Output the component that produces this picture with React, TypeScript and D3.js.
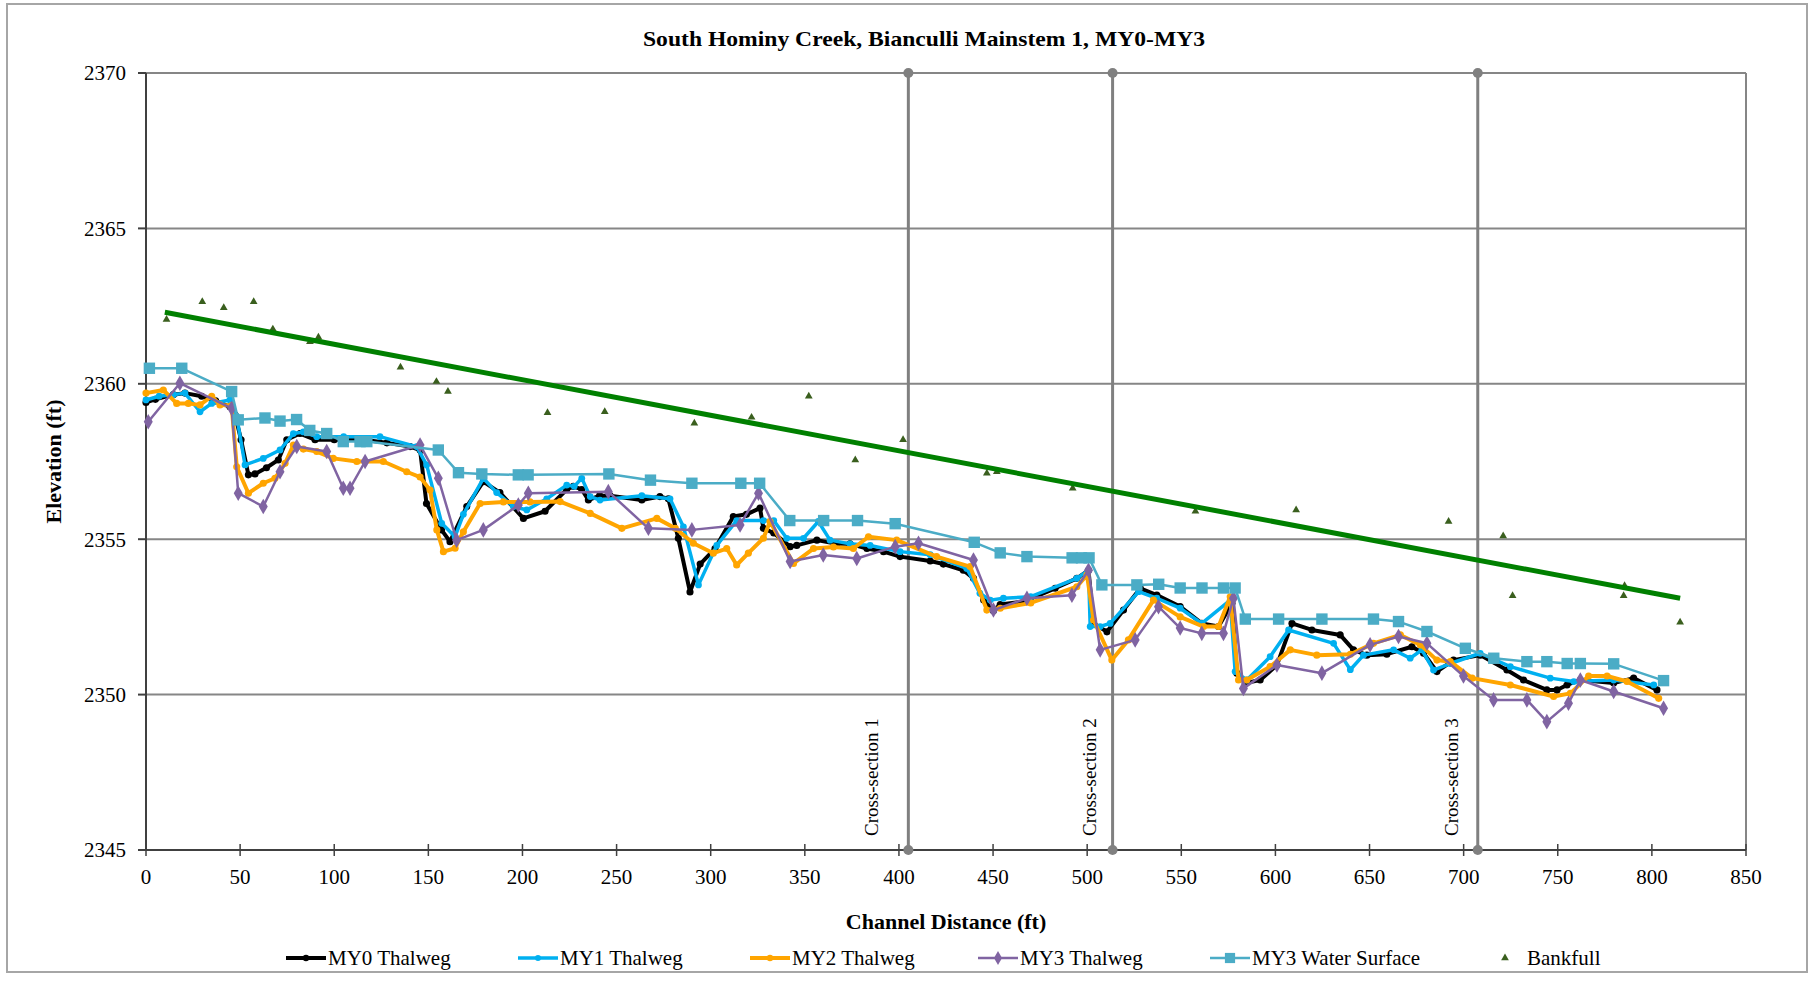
import * as d3 from 'd3'
import React from 'react'

type Pt = [number, number]

// Channel distance (ft) / elevation (ft) read from the profile
const my0Thalweg: Pt[] = [
  [0, 2359.4], [5, 2359.5], [14.5, 2359.65], [20.7, 2359.7], [29.6, 2359.6], [37, 2359.45], [44.6, 2359.26],
  [47.3, 2359.0], [50.5, 2358.2], [54.4, 2357.07], [57.9, 2357.1], [64, 2357.3], [70.3, 2357.55], [74.8, 2358.2],
  [81.8, 2358.4], [89.8, 2358.2], [100, 2358.2], [115.4, 2358.2], [128, 2358.1], [140.3, 2357.98], [145.6, 2357.87],
  [149, 2356.15], [157, 2355.3], [161.5, 2354.92], [170.4, 2356.05], [179.2, 2356.85], [188, 2356.5], [200.5, 2355.67],
  [212, 2355.9], [223.5, 2356.6], [227, 2356.7], [231.5, 2356.6], [235, 2356.26], [241, 2356.4], [246.5, 2356.4],
  [263.4, 2356.26], [273, 2356.37], [277.5, 2356.3], [282.8, 2355.03], [289, 2353.3], [294.4, 2354.2], [302.3, 2354.7],
  [312, 2355.73], [319, 2355.8], [326.2, 2356.0], [328, 2355.35], [333.5, 2355.2], [342.2, 2354.76], [345.7, 2354.8],
  [356.4, 2354.97], [367, 2354.85], [374, 2354.85], [383, 2354.7], [391.8, 2354.6], [400.6, 2354.44], [416.6, 2354.3],
  [423.6, 2354.2], [434.2, 2354.0], [439.6, 2353.74], [445, 2353.04], [450.2, 2352.7], [453.8, 2352.9], [466.5, 2353.0],
  [483, 2353.42], [494.5, 2353.74], [500.7, 2354.0], [503.4, 2352.29], [510.5, 2352.02], [519.3, 2352.72], [528.2, 2353.42],
  [537, 2353.2], [549.4, 2352.83], [560.9, 2352.29], [569.8, 2352.19], [576.9, 2352.94], [579.5, 2350.69], [584, 2350.37],
  [591.9, 2350.47], [600.8, 2350.95], [608.8, 2352.29], [619.4, 2352.08], [634.4, 2351.92], [641.5, 2351.44], [648.6, 2351.27],
  [659.2, 2351.3], [672.5, 2351.54], [678.7, 2351.33], [685.8, 2350.74], [694.6, 2351.11], [708.8, 2351.27], [723, 2350.79],
  [731.8, 2350.47], [744.2, 2350.15], [749.6, 2350.15], [754.9, 2350.31], [762, 2350.47], [779.7, 2350.37], [790.3, 2350.53],
  [802.7, 2350.15],
]

const my1Thalweg: Pt[] = [
  [0, 2359.48], [7, 2359.6], [14.5, 2359.65], [20.7, 2359.7], [28.7, 2359.1], [34.9, 2359.37], [44.6, 2359.48],
  [48.2, 2358.94], [52.6, 2357.39], [62.3, 2357.6], [71.2, 2357.87], [78.3, 2358.4], [83.6, 2358.45], [90.7, 2358.3],
  [105, 2358.3], [124.3, 2358.3], [143.8, 2357.98], [149.1, 2357.39], [157.1, 2355.51], [164.2, 2355.08], [168.6, 2355.8],
  [179.2, 2356.96], [186.3, 2356.5], [195.2, 2356.05], [202.3, 2355.94], [212.9, 2356.3], [223.5, 2356.74], [227.5, 2356.7],
  [231.5, 2356.96], [236, 2356.37], [241.2, 2356.26], [263.4, 2356.4], [278.4, 2356.3], [285.5, 2355.4], [293.5, 2353.53],
  [303.2, 2354.8], [313.8, 2355.6], [328, 2355.6], [333.5, 2355.6], [340.4, 2355.03], [349.3, 2355.03], [357.2, 2355.57],
  [363.4, 2354.97], [374, 2354.85], [384.7, 2354.8], [400.6, 2354.6], [416.6, 2354.5], [436, 2354.06], [443, 2353.26],
  [448.5, 2353.04], [455.5, 2353.1], [470, 2353.15], [494.5, 2353.74], [500.7, 2354.0], [501.6, 2352.19], [506.9, 2352.19],
  [512.2, 2352.29], [527.3, 2353.31], [537, 2353.1], [549.4, 2352.78], [560.9, 2352.29], [576, 2353.04], [578.6, 2350.74],
  [584.8, 2350.47], [597.2, 2351.22], [607, 2352.08], [630.9, 2351.65], [639.8, 2350.8], [646.8, 2351.27], [662.8, 2351.44],
  [671.6, 2351.17], [677.8, 2351.44], [684, 2350.79], [692.9, 2351.0], [708.8, 2351.33], [724.8, 2350.9], [746, 2350.53],
  [758.5, 2350.42], [779.7, 2350.47], [801, 2350.31],
]

const my2Thalweg: Pt[] = [
  [0, 2359.7], [9.2, 2359.8], [16.3, 2359.37], [22.5, 2359.37], [28.7, 2359.32], [34.9, 2359.6], [39.3, 2359.32],
  [45.5, 2359.3], [48.2, 2357.33], [54.4, 2356.48], [62.3, 2356.8], [68.5, 2356.96], [73.9, 2357.44], [78.3, 2358.03],
  [83.6, 2357.9], [90.7, 2357.82], [99.5, 2357.6], [112, 2357.5], [126.1, 2357.5], [138.5, 2357.17], [145.6, 2357.0],
  [150.9, 2356.58], [154.5, 2355.3], [158, 2354.6], [164.2, 2354.71], [168.6, 2355.24], [177.5, 2356.15], [189.9, 2356.2],
  [204, 2356.2], [220, 2356.21], [236, 2355.83], [252.8, 2355.35], [271.4, 2355.67], [281.2, 2355.35], [290.8, 2354.87],
  [301.4, 2354.55], [308.5, 2354.7], [313.8, 2354.17], [320, 2354.55], [328, 2355.03], [331.5, 2355.57], [344, 2354.22],
  [354.6, 2354.7], [365.2, 2354.75], [375.8, 2354.7], [383.8, 2355.08], [398.8, 2354.97], [420, 2354.44], [437.8, 2354.12],
  [446.7, 2352.72], [453.8, 2352.78], [470, 2352.95], [494.5, 2353.47], [499.9, 2353.85], [503.4, 2352.4], [513.1, 2351.11],
  [521.9, 2351.76], [535.2, 2353.04], [549.4, 2352.5], [561.8, 2352.19], [569.8, 2352.19], [576, 2353.15], [580.4, 2350.47],
  [584.8, 2350.47], [597.2, 2350.9], [607.9, 2351.44], [622, 2351.27], [639.8, 2351.3], [652.1, 2351.65], [666.4, 2351.92],
  [677, 2351.6], [685.8, 2351.11], [692.9, 2351.06], [704.5, 2350.53], [724.8, 2350.31], [747.8, 2349.94], [756.7, 2350.04],
  [766.4, 2350.6], [776.2, 2350.6], [786.8, 2350.42], [803.6, 2349.88],
]

const my3Thalweg: Pt[] = [
  [1.2, 2358.78], [18, 2360.02], [45.5, 2359.21], [49, 2356.48], [62.3, 2356.05], [71.2, 2357.17], [80.1, 2357.98],
  [96, 2357.82], [104.8, 2356.64], [108.4, 2356.64], [116.4, 2357.5], [145.6, 2358.03], [155.3, 2356.96], [165, 2354.97],
  [179.2, 2355.3], [197.8, 2356.1], [203.1, 2356.48], [245.6, 2356.53], [266.9, 2355.35], [290, 2355.3], [315.6, 2355.46],
  [325.4, 2356.48], [342.2, 2354.28], [359.8, 2354.49], [377.6, 2354.38], [398, 2354.76], [410.4, 2354.87], [439.6, 2354.33],
  [450.2, 2352.72], [468, 2353.1], [491.9, 2353.2], [500.7, 2354.0], [506.9, 2351.44], [525.5, 2351.76], [537.9, 2352.83],
  [549.4, 2352.14], [560.9, 2351.97], [572.4, 2351.97], [577.7, 2353.1], [583, 2350.2], [600.8, 2350.95], [624.7, 2350.69],
  [650.3, 2351.6], [665.4, 2351.87], [680.5, 2351.65], [699.9, 2350.6], [715.9, 2349.83], [733.6, 2349.83], [744.2, 2349.13],
  [755.7, 2349.72], [762, 2350.47], [779.7, 2350.1], [806.2, 2349.56],
]

const my3WaterSurface: Pt[] = [
  [1.8, 2360.5], [19, 2360.5], [45.5, 2359.75], [49, 2358.84], [63.2, 2358.9], [71.2, 2358.8], [80, 2358.85], [87, 2358.5],
  [96, 2358.4], [104.8, 2358.14], [113.7, 2358.14], [117.3, 2358.14], [155.3, 2357.87], [166, 2357.14], [178.4, 2357.1],
  [197.8, 2357.07], [203, 2357.07], [245.9, 2357.1], [268, 2356.9], [290, 2356.8], [316, 2356.8], [326, 2356.8],
  [342, 2355.6], [360, 2355.6], [378, 2355.6], [398, 2355.5], [440, 2354.9], [453.8, 2354.56], [468, 2354.44], [492, 2354.4],
  [497, 2354.4], [501, 2354.4], [507.8, 2353.53], [526.4, 2353.53], [538, 2353.55], [549.4, 2353.43], [561, 2353.43],
  [572.4, 2353.43], [578.6, 2353.43], [584, 2352.43], [601.7, 2352.43], [624.7, 2352.43], [652.1, 2352.43], [665.4, 2352.35],
  [680.5, 2352.03], [700.9, 2351.49], [716, 2351.17], [733.6, 2351.06], [744.2, 2351.06], [755, 2351.0], [762, 2351.0],
  [779.7, 2350.99], [806.2, 2350.45],
]

const bankfull: Pt[] = [
  [10.9, 2362.07], [29.9, 2362.64], [41.3, 2362.45], [57.2, 2362.64], [67.4, 2361.76], [87.1, 2361.35], [91.6, 2361.5],
  [135.2, 2360.53], [154.3, 2360.07], [160.4, 2359.75], [213.3, 2359.07], [243.7, 2359.1], [291.3, 2358.73], [321.7, 2358.92],
  [352.1, 2359.6], [376.8, 2357.55], [402.2, 2358.2], [446.7, 2357.12], [452, 2357.17], [492.3, 2356.64], [557.5, 2355.9],
  [611, 2355.94], [692, 2355.57], [721, 2355.1], [726, 2353.18], [785, 2353.18], [785.5, 2353.5], [815, 2352.33],
]

// linear trend through the bankfull points
const bankfullTrend: Pt[] = [[10, 2362.3], [815, 2353.1]]

const crossSections = ['Cross-section 1', 'Cross-section 2', 'Cross-section 3']
const crossSectionStations = [405, 513.5, 707.5]

const xTicks = d3.range(0, 851, 50)
const yTicks = [2345, 2350, 2355, 2360, 2365, 2370]

const W = 1811
const H = 984
const FONT = '"Liberation Serif", "Times New Roman", serif'
// label nudges left of each cross-section line (px)
const labelGap = [30, 17, 20]

const x = d3.scaleLinear().domain([0, 850]).range([146, 1746])
const y = d3.scaleLinear().domain([2345, 2370]).range([850, 73])

const line = d3.line<Pt>().x(d => x(d[0])).y(d => y(d[1]))

const series = [
  { name: 'MY0 Thalweg', data: my0Thalweg, color: '#000000', width: 4, symbol: d3.symbolCircle, size: 40 },
  { name: 'MY1 Thalweg', data: my1Thalweg, color: '#00B0F0', width: 3.5, symbol: d3.symbolCircle, size: 36 },
  { name: 'MY2 Thalweg', data: my2Thalweg, color: '#FFA500', width: 4, symbol: d3.symbolCircle, size: 40 },
  { name: 'MY3 Thalweg', data: my3Thalweg, color: '#8064A2', width: 2.5, symbol: d3.symbolDiamond, size: 70 },
  { name: 'MY3 Water Surface', data: my3WaterSurface, color: '#4BACC6', width: 2.5, symbol: d3.symbolSquare, size: 130 },
]

const legendX = [286, 518, 750, 978, 1210]

export default function App() {
  const bankSym = d3.symbol().type(d3.symbolTriangle).size(26)()

  return (
    <svg width={W} height={H} style={{ position: 'absolute', left: 0, top: 0, background: '#fff' }} fontFamily={FONT}>
      <rect x={7} y={4} width={1800} height={968} fill='#fff' stroke='#a6a6a6' strokeWidth={2} />

      <text x={924} y={46} textAnchor='middle' fontWeight='bold' fontSize={21} textLength={562} lengthAdjust='spacingAndGlyphs'>
        South Hominy Creek, Bianculli Mainstem 1, MY0-MY3
      </text>

      {/* grid */}
      {yTicks.slice(1).map(t => (
        <line key={t} x1={x(0)} x2={x(850)} y1={y(t)} y2={y(t)} stroke='#868686' strokeWidth={2} />
      ))}
      <line x1={x(850)} x2={x(850)} y1={y(2370)} y2={y(2345)} stroke='#868686' strokeWidth={2} />

      {/* axes */}
      <line x1={x(0)} x2={x(0)} y1={y(2370)} y2={y(2345)} stroke='#404040' strokeWidth={2} />
      <line x1={x(0)} x2={x(850)} y1={y(2345)} y2={y(2345)} stroke='#404040' strokeWidth={2} />
      {yTicks.map(t => (
        <g key={t}>
          <line x1={x(0) - 8} x2={x(0)} y1={y(t)} y2={y(t)} stroke='#404040' strokeWidth={2} />
          <text x={126} y={y(t)} dy='0.35em' textAnchor='end' fontSize={21}>{t}</text>
        </g>
      ))}
      {xTicks.map(t => (
        <g key={t}>
          <line x1={x(t)} x2={x(t)} y1={y(2345) - 6} y2={y(2345) + 6} stroke='#404040' strokeWidth={1.5} />
          <text x={x(t)} y={884} textAnchor='middle' fontSize={21}>{t}</text>
        </g>
      ))}

      <text x={946} y={929} textAnchor='middle' fontWeight='bold' fontSize={22}>Channel Distance (ft)</text>
      <text transform={`translate(61, ${y(2357.5)}) rotate(-90)`} textAnchor='middle' fontWeight='bold' fontSize={22}>
        Elevation (ft)
      </text>

      {/* cross-section markers */}
      {crossSections.map((label, i) => {
        const cx = x(crossSectionStations[i])
        return (
          <g key={label}>
            <line x1={cx} x2={cx} y1={y(2370)} y2={y(2345)} stroke='#808080' strokeWidth={3} />
            <circle cx={cx} cy={y(2370)} r={5} fill='#808080' />
            <circle cx={cx} cy={y(2345)} r={5} fill='#808080' />
            <text transform={`translate(${cx - labelGap[i]}, 836) rotate(-90)`} fontSize={19}>{label}</text>
          </g>
        )
      })}

      {/* series */}
      {series.map(s => {
        const sym = d3.symbol().type(s.symbol).size(s.size)()
        return (
          <g key={s.name}>
            <path d={line(s.data) ?? ''} fill='none' stroke={s.color} strokeWidth={s.width} strokeLinejoin='round' />
            {s.data.map((d, i) => (
              <path key={i} d={sym ?? ''} transform={`translate(${x(d[0])},${y(d[1])})`} fill={s.color} />
            ))}
          </g>
        )
      })}

      {/* bankfull */}
      {bankfull.map((d, i) => (
        <path key={i} d={bankSym ?? ''} transform={`translate(${x(d[0])},${y(d[1])})`} fill='#3A5F1E' />
      ))}
      <path d={line(bankfullTrend) ?? ''} stroke='#008000' strokeWidth={5} fill='none' />

      {/* legend */}
      {series.map((s, i) => {
        const sym = d3.symbol().type(s.symbol).size(s.size * 0.8)()
        const lx = legendX[i]
        return (
          <g key={s.name}>
            <line x1={lx} x2={lx + 40} y1={958} y2={958} stroke={s.color} strokeWidth={s.width} />
            <path d={sym ?? ''} transform={`translate(${lx + 20},958)`} fill={s.color} />
            <text x={lx + 42} y={965} fontSize={21}>{s.name}</text>
          </g>
        )
      })}
      <path d={bankSym ?? ''} transform='translate(1505,958)' fill='#3A5F1E' />
      <text x={1527} y={965} fontSize={21}>Bankfull</text>
    </svg>
  )
}
